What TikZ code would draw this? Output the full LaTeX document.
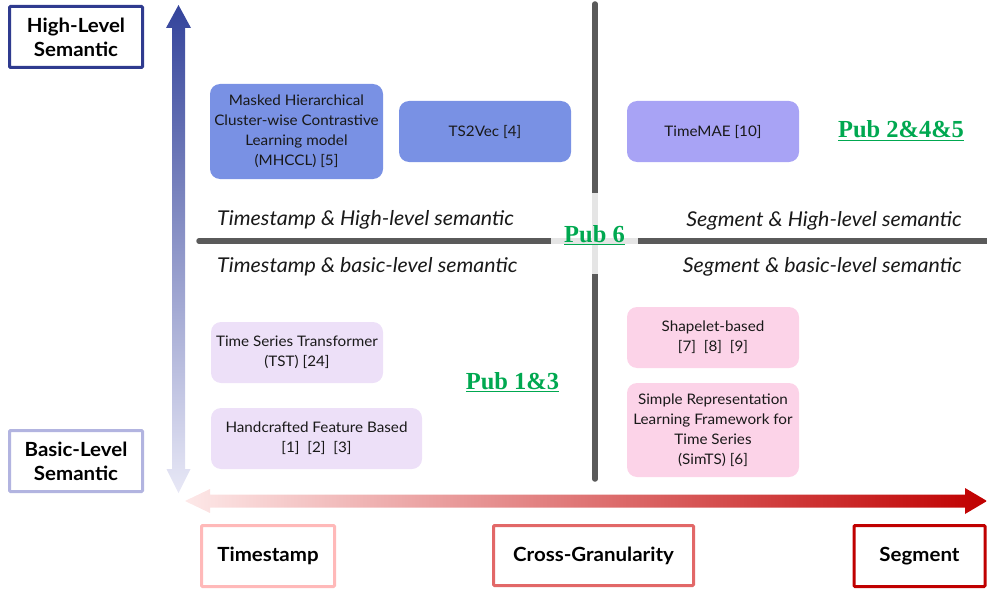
\documentclass[tikz,border=0pt]{standalone}
\usepackage{fontspec}
\setmainfont[FakeStretch=1.05]{Lato}
\newfontfamily\pubfont{Liberation Serif}

% underlined publication tag
\newsavebox{\pubbox}
\newcommand{\pubul}[1]{\sbox{\pubbox}{#1}\rlap{\rule[-3.2pt]{\wd\pubbox}{1.6pt}}\usebox{\pubbox}}

\definecolor{hiblue}{RGB}{47,59,143}
\definecolor{loblue}{RGB}{178,180,224}
\definecolor{arrowtop}{RGB}{52,68,155}
\definecolor{arrowbot}{RGB}{232,232,246}
\definecolor{arrowleft}{RGB}{253,232,232}
\definecolor{arrowright}{RGB}{192,0,0}
\definecolor{tsborder}{RGB}{255,185,185}
\definecolor{cgborder}{RGB}{226,104,104}
\definecolor{sgborder}{RGB}{192,0,0}
\definecolor{axisgray}{RGB}{90,90,90}
\definecolor{crossgray}{RGB}{229,229,229}
\definecolor{pubgreen}{RGB}{0,168,80}
\definecolor{boxblue}{RGB}{121,145,228}
\definecolor{boxlav}{RGB}{168,163,245}
\definecolor{boxlilac}{RGB}{237,224,248}
\definecolor{boxpink}{RGB}{252,211,232}
\definecolor{ink}{RGB}{25,25,25}

\tikzset{
  method/.style={rounded corners=10pt, inner sep=0pt, align=center,
    text=ink, font=\fontsize{14.5}{20}\selectfont},
  axislabel/.style={draw, line width=3pt, rounded corners=1pt, fill=white,
    align=center, inner sep=0pt, font=\fontsize{19.5}{24}\selectfont\bfseries},
  quadlabel/.style={inner sep=0pt, font=\fontsize{20.4}{24}\selectfont\itshape, text=ink},
  pub/.style={inner sep=0pt, text=pubgreen, font=\fontsize{24.5}{28}\selectfont\pubfont\bfseries},
  divider/.style={line width=5.5pt, axisgray, line cap=round},
}

\begin{document}
\begin{tikzpicture}[x=1pt,y=-1pt]
\useasboundingbox (0,0) rectangle (987,591);

% semantic-level axis (double-headed, shaded)
\shade[top color=arrowtop, bottom color=arrowbot]
  (178.5,5) -- (191,28) -- (185,28) -- (185,469) -- (190.5,469) -- (178.5,493)
  -- (166.5,469) -- (172,469) -- (172,28) -- (166,28) -- cycle;

% granularity axis (double-headed, shaded)
\shade[left color=arrowleft, right color=arrowright]
  (185,501) -- (210,489) -- (210,494.5) -- (965,494.5) -- (965,488) -- (987,501)
  -- (965,514) -- (965,507.5) -- (210,507.5) -- (210,513) -- cycle;

% quadrant dividers
\draw[divider] (199,241) -- (987,241);
\draw[divider] (595,4) -- (595,479);
\draw[line width=5.5pt, crossgray] (551,241) -- (638,241);
\draw[line width=6pt, crossgray] (595,193) -- (595,274);

% axis end labels
\node[axislabel, draw=hiblue, minimum width=133pt, minimum height=61pt] (hi) at (76,37) {High-Level\\Semantic};
\node[axislabel, draw=loblue, minimum width=133pt, minimum height=61pt] (lo) at (76,461) {Basic-Level\\Semantic};
\node[axislabel, draw=tsborder, minimum width=133pt, minimum height=61pt] (ts) at (268,556) {Timestamp};
\node[axislabel, draw=cgborder, minimum width=200pt, minimum height=60pt] (cg) at (593.5,555.5) {Cross-Granularity};
\node[axislabel, draw=sgborder, minimum width=131pt, minimum height=61pt] (sg) at (919.5,556) {Segment};

% quadrant captions
\node[quadlabel, anchor=base west] (q1) at (217,225) {Timestamp \& High-level semantic};
\node[quadlabel, anchor=base west] (q2) at (217,272) {Timestamp \& basic-level semantic};
\node[quadlabel, anchor=base east] (q3) at (962,226) {Segment \& High-level semantic};
\node[quadlabel, anchor=base east] (q4) at (962,272) {Segment \& basic-level semantic};

% methods
\node[method, fill=boxblue, minimum width=173pt, minimum height=95pt] (mhccl) at (296.5,131.5)
  {Masked Hierarchical\\Cluster-wise Contrastive\\Learning model\\(MHCCL) [5]};
\node[method, fill=boxblue, minimum width=172pt, minimum height=61pt] (ts2vec) at (485,131.5) {TS2Vec [4]};
\node[method, fill=boxlav, minimum width=172pt, minimum height=61pt] (timemae) at (713,131.5) {TimeMAE [10]};
\node[method, fill=boxlilac, minimum width=172pt, minimum height=61pt] (tst) at (297,352.5)
  {Time Series Transformer\\(TST) [24]};
\node[method, fill=boxlilac, minimum width=211pt, minimum height=61pt] (hand) at (316.5,438.5)
  {Handcrafted Feature Based\\{[1]}\ \ [2]\ \ [3]};
\node[method, fill=boxpink, minimum width=172pt, minimum height=61pt] (shape) at (713,337.5)
  {Shapelet-based\\{[7]}\ \ [8]\ \ [9]};
\node[method, fill=boxpink, minimum width=172pt, minimum height=94pt] (simts) at (713,430)
  {Simple Representation\\Learning Framework for\\Time Series\\(SimTS) [6]};

% publication tags
\node[pub, anchor=base] (pub6) at (594.5,242) {\pubul{Pub 6}};
\node[pub, anchor=base] (pub245) at (901,138) {\pubul{Pub 2\&4\&5}};
\node[pub, anchor=base] (pub13) at (512.5,389) {\pubul{Pub 1\&3}};
\end{tikzpicture}
\end{document}
